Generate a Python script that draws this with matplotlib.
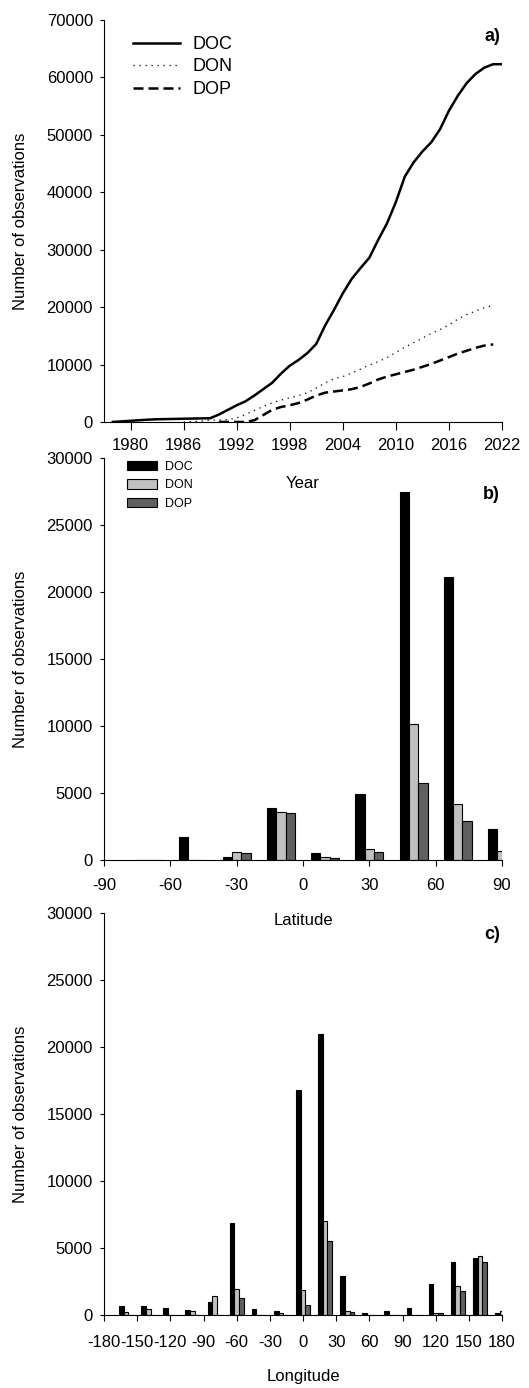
import numpy as np
import matplotlib.pyplot as plt

plt.rcParams['font.family'] = ['Liberation Sans', 'DejaVu Sans']
plt.rcParams['axes.unicode_minus'] = False


# a) cumulative number of observations per year
DOC_YEARS = list(range(1978, 2023))
DOC_OBS = [0, 100, 200, 300, 400, 470, 500, 530, 560, 590, 620, 650,
           1300, 2100, 2900, 3600, 4600, 5700, 6800, 8400, 9800, 10800,
           12000, 13600, 16800, 19500, 22400, 24900, 26800, 28600, 31700,
           34600, 38300, 42700, 45200, 47100, 48700, 51000, 54200, 56800,
           59000, 60600, 61700, 62300, 62300]

DON_YEARS = list(range(1986, 2022))
DON_OBS = [0, 50, 150, 300, 350, 400, 700, 1300, 2000, 2700, 3300, 3800,
           4200, 4600, 5100, 5900, 6800, 7500, 7900, 8500, 9200, 9900,
           10500, 11200, 12100, 13000, 13800, 14600, 15400, 16100, 16900,
           17900, 18700, 19300, 19900, 20300]

DOP_YEARS = list(range(1990, 2022))
DOP_OBS = [0, 0, 0, 0, 300, 1200, 2100, 2600, 2900, 3300, 3900, 4600,
           5100, 5300, 5500, 5700, 6100, 6700, 7400, 7900, 8300, 8700,
           9100, 9600, 10100, 10700, 11300, 11900, 12400, 12900, 13300, 13500]

# b) observations per latitude band
LAT_BINS = [-70, -50, -30, -10, 10, 30, 50, 70, 90]
LAT_DOC = [0, 1750, 250, 3900, 500, 4950, 27500, 21100, 2330]
LAT_DON = [0, 0, 620, 3600, 200, 850, 10150, 4150, 680]
LAT_DOP = [0, 0, 500, 3520, 120, 570, 5750, 2900, 0]

# c) observations per longitude band
LON_BINS = list(range(-160, 181, 20))
LON_DOC = [690, 670, 500, 350, 1000, 6890, 420, 300, 16800, 20950, 2900,
           150, 300, 520, 2300, 3950, 4250, 170]
LON_DON = [250, 420, 0, 300, 1440, 1920, 0, 150, 1900, 7020, 275,
           0, 0, 0, 170, 2150, 4440, 280]
LON_DOP = [0, 0, 0, 0, 0, 1245, 0, 0, 720, 5530, 200,
           0, 0, 0, 170, 1780, 3970, 0]

BAR_W = 4.2
BAR_COLORS = ['black', '#c0c0c0', '#606060']
NAMES = ['DOC', 'DON', 'DOP']


def style_axes(ax, xlen):
    # no background, so labels of the panel above stay visible
    ax.patch.set_visible(False)
    for s in ['top', 'right']:
        ax.spines[s].set_visible(False)
    for s in ['left', 'bottom']:
        ax.spines[s].set_linewidth(0.8)
    ax.tick_params(axis='y', direction='out', length=3, width=0.8, pad=5, labelsize=12)
    ax.tick_params(axis='x', direction='out', length=xlen, width=0.8, labelsize=12)
    ax.set_ylabel('Number of observations', fontsize=12)
    ax.yaxis.set_label_coords(-0.19, 0.5)


def grouped_bars(ax, bins, series):
    x = np.array(bins, dtype=float)
    for i, vals in enumerate(series):
        ax.bar(x + (i - 1) * BAR_W, vals, width=BAR_W, color=BAR_COLORS[i],
               edgecolor='black', linewidth=0.8, label=NAMES[i])


fig = plt.figure(figsize=(5.29, 13.88), dpi=100)

# ---- panel a
ax = fig.add_axes([0.1966, 0.6960, 0.7524, 0.2896])
ax.plot(DOC_YEARS, DOC_OBS, color='black', lw=1.8, label='DOC')
ax.plot(DON_YEARS, DON_OBS, color='black', lw=0.9, ls=(0, (1, 3.8)), label='DON')
ax.plot(DOP_YEARS, DOP_OBS, color='black', lw=1.8, ls=(0, (4, 2)), label='DOP')
ax.set_xlim(1977, 2022)
ax.set_ylim(0, 70000)
ax.set_xticks(range(1980, 2023, 6))
ax.set_yticks(range(0, 70001, 10000))
style_axes(ax, 5.5)
ax.tick_params(axis='x', pad=6)
ax.set_xlabel('Year', fontsize=12)
ax.xaxis.set_label_coords(0.5, -0.135)
ax.legend(loc='upper left', bbox_to_anchor=(0.073, 0.96), frameon=False,
          fontsize=13, handlelength=2.6, handletextpad=0.7, labelspacing=0.3,
          borderpad=0, borderaxespad=0)
ax.text(0.995, 0.98, 'a)', transform=ax.transAxes, ha='right', va='top',
        fontsize=13, fontweight='bold')

# ---- panel b
ax = fig.add_axes([0.1966, 0.3804, 0.7524, 0.2896])
grouped_bars(ax, LAT_BINS, [LAT_DOC, LAT_DON, LAT_DOP])
ax.set_xlim(-90, 90)
ax.set_ylim(0, 30000)
ax.set_xticks(range(-90, 91, 30))
ax.set_yticks(range(0, 30001, 5000))
style_axes(ax, 4.3)
ax.tick_params(axis='x', pad=9)
ax.set_xlabel('Latitude', fontsize=12)
ax.xaxis.set_label_coords(0.5, -0.131)
ax.legend(loc='upper left', bbox_to_anchor=(0.058, 0.993), frameon=False,
          fontsize=9, handlelength=2.4, handleheight=0.8, handletextpad=0.65,
          labelspacing=0.5, borderpad=0, borderaxespad=0)
ax.text(0.995, 0.93, 'b)', transform=ax.transAxes, ha='right', va='top',
        fontsize=13, fontweight='bold')

# ---- panel c
ax = fig.add_axes([0.1966, 0.0526, 0.7524, 0.2894])
grouped_bars(ax, LON_BINS, [LON_DOC, LON_DON, LON_DOP])
ax.set_xlim(-180, 180)
ax.set_ylim(0, 30000)
ax.set_xticks(range(-180, 181, 30))
ax.set_yticks(range(0, 30001, 5000))
style_axes(ax, 4.1)
ax.tick_params(axis='x', pad=10)
ax.set_xlabel('Longitude', fontsize=12)
ax.xaxis.set_label_coords(0.5, -0.134)
ax.text(0.995, 0.968, 'c)', transform=ax.transAxes, ha='right', va='top',
        fontsize=13, fontweight='bold')

fig.savefig('out.png', dpi=100)
